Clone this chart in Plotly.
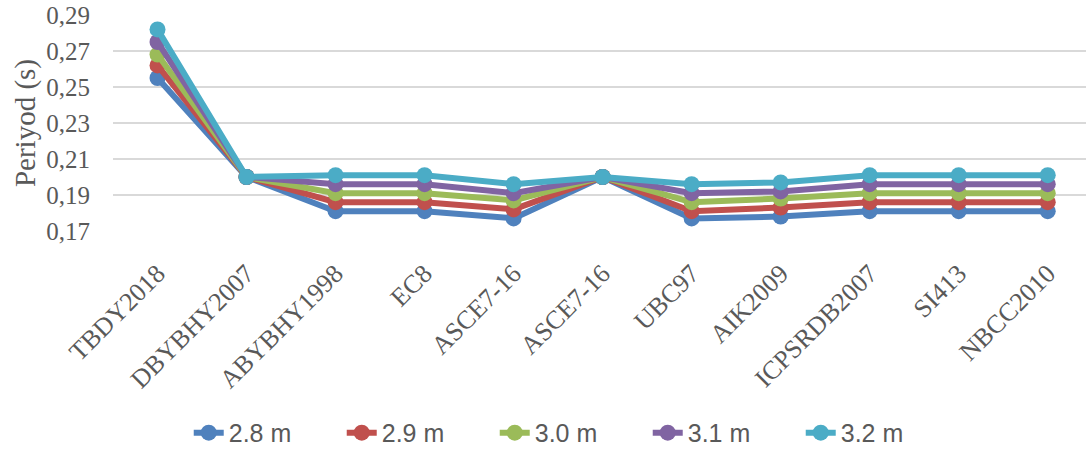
import plotly.graph_objects as go

# Design codes compared (ASCE7-16 appears twice, as in the source table)
codes = ["TBDY2018", "DBYBHY2007", "ABYBHY1998", "EC8", "ASCE7-16", "ASCE7-16",
         "UBC97", "AIK2009", "ICPSRDB2007", "SI413", "NBCC2010"]

# Fundamental period (s) for each storey height
t_28 = [0.255, 0.200, 0.181, 0.181, 0.177, 0.200, 0.177, 0.178, 0.181, 0.181, 0.181]
t_29 = [0.262, 0.200, 0.186, 0.186, 0.182, 0.200, 0.181, 0.183, 0.186, 0.186, 0.186]
t_30 = [0.268, 0.200, 0.191, 0.191, 0.187, 0.200, 0.186, 0.188, 0.191, 0.191, 0.191]
t_31 = [0.275, 0.200, 0.196, 0.196, 0.191, 0.200, 0.191, 0.192, 0.196, 0.196, 0.196]
t_32 = [0.282, 0.200, 0.201, 0.201, 0.196, 0.200, 0.196, 0.197, 0.201, 0.201, 0.201]

series = [
    ("2.8 m", t_28, "#4F81BD"),
    ("2.9 m", t_29, "#C0504D"),
    ("3.0 m", t_30, "#9BBB59"),
    ("3.1 m", t_31, "#8064A2"),
    ("3.2 m", t_32, "#4BACC6"),
]

y_ticks = [0.17, 0.19, 0.21, 0.23, 0.25, 0.27, 0.29]
y_tick_text = ["0,17", "0,19", "0,21", "0,23", "0,25", "0,27", "0,29"]

x_pos = list(range(len(codes)))

fig = go.Figure()
for name, vals, color in series:
    fig.add_trace(go.Scatter(
        x=x_pos, y=vals, name=name, mode="lines+markers",
        line=dict(color=color, width=6),
        marker=dict(color=color, size=16),
    ))

serif = "Liberation Serif"
fig.update_layout(
    width=1086, height=450,
    margin=dict(l=113, r=0, t=15, b=219),
    paper_bgcolor="white", plot_bgcolor="white",
    showlegend=True,
    legend=dict(
        orientation="h", xref="container", yref="container",
        x=0.526, xanchor="center", y=0.038, yanchor="middle",
        font=dict(family="Liberation Sans Narrow, Liberation Sans, sans-serif",
                  size=25, color="#595959"),
        entrywidth=108, entrywidthmode="pixels",
    ),
    xaxis=dict(
        range=[-0.5, 10.43],
        tickmode="array", tickvals=x_pos, ticktext=codes,
        tickangle=-45,
        tickfont=dict(family=serif, size=26, color="#595959"),
        ticks="outside", ticklen=16, tickcolor="rgba(0,0,0,0)",
        showgrid=False, zeroline=False, showline=False,
    ),
    yaxis=dict(
        range=[0.17, 0.29],
        tickmode="array", tickvals=y_ticks, ticktext=y_tick_text,
        tickfont=dict(family=serif, size=25, color="#595959"),
        ticks="outside", ticklen=17, tickcolor="rgba(0,0,0,0)",
        showgrid=True, gridcolor="#D9D9D9", gridwidth=1.5,
        zeroline=False, showline=False,
        title=dict(text="Periyod (s)", standoff=2,
                   font=dict(family=serif, size=29, color="#595959")),
    ),
)

fig.write_html("out.html")
